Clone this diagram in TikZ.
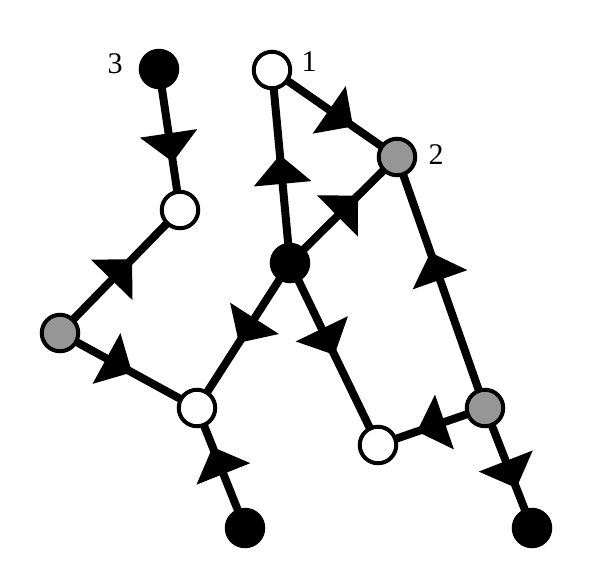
\documentclass[tikz,border=0pt]{standalone}
\usepackage{fontspec}
\setmainfont{Liberation Serif}
\usetikzlibrary{decorations.markings,backgrounds}
\definecolor{nodegray}{RGB}{150,150,150}
\tikzset{
 vtx/.style={circle,draw=black,line width=4pt,minimum size=36.5pt,inner sep=0pt},
 wv/.style={vtx,fill=white},
 gv/.style={vtx,fill=nodegray},
 bv/.style={vtx,fill=black},
 edge/.style={line width=8pt},
 arr/.style={postaction={decorate},decoration={markings,mark=at position #1 with {\fill[black] (0pt,0pt) -- (-29pt,29pt) -- (-29pt,-29pt) -- cycle;}}},
 lbl/.style={font=\fontsize{30}{36}\selectfont,inner sep=0pt}
}
\begin{document}
\begin{tikzpicture}[x=1pt,y=-1pt]
\useasboundingbox (0,0) rectangle (590,587);
\node[bv] (n3) at (159,69) {};
\node[wv] (n1) at (272,70) {};
\node[gv] (n2) at (397,157) {};
\node[wv] (a) at (180,210) {};
\node[bv] (c) at (290,263) {};
\node[gv] (gl) at (60,333) {};
\node[wv] (b) at (197,408) {};
\node[wv] (wc) at (378,445) {};
\node[gv] (gr) at (485,408) {};
\node[bv] (bl) at (245,528) {};
\node[bv] (br) at (532,528) {};
\node[lbl] (l3) at (115,64) {3};
\node[lbl] (l1) at (309,62) {1};
\node[lbl] (l2) at (436,155) {2};
\begin{scope}[on background layer]
\draw[edge,arr=0.66] (n3.center) -- (a.center);
\draw[edge,arr=0.648] (n1.center) -- (n2.center);
\draw[edge,arr=0.56] (c.center) -- (n1.center);
\draw[edge,arr=0.636] (c.center) -- (n2.center);
\draw[edge,arr=0.6] (gl.center) -- (a.center);
\draw[edge,arr=0.525] (gl.center) -- (b.center);
\draw[edge,arr=0.55] (c.center) -- (b.center);
\draw[edge,arr=0.675] (bl.center) -- (b.center);
\draw[edge,arr=0.505] (c.center) -- (wc.center);
\draw[edge,arr=0.62] (gr.center) -- (n2.center);
\draw[edge,arr=0.635] (gr.center) -- (wc.center);
\draw[edge,arr=0.667] (gr.center) -- (br.center);
\end{scope}
\end{tikzpicture}
\end{document}
